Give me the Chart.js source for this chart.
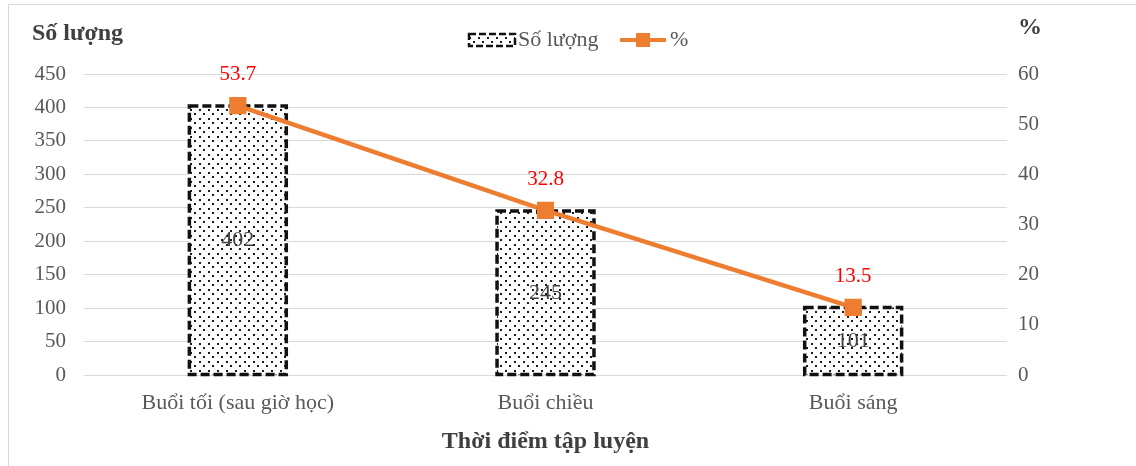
<!DOCTYPE html>
<html>
<head>
<meta charset="utf-8">
<script src="https://cdn.jsdelivr.net/npm/chart.js@4"></script>
<style>
  body { margin: 0; background: #fff; }
  #wrap { width: 1136px; height: 466px; }
</style>
</head>
<body>
<div id="wrap"><canvas id="chart" width="1136" height="466"></canvas></div>
<script>
const categories = ['Buổi tối (sau giờ học)', 'Buổi chiều', 'Buổi sáng'];
const counts = [402, 245, 101];
const percents = [53.7, 32.8, 13.5];
const leftTicks = { min: 0, max: 450, step: 50 };
const rightTicks = { min: 0, max: 60, step: 10 };

const serif = "'Liberation Serif', 'Times New Roman', serif";
const grey = '#595959';
const orange = '#ED7D31';

// dotted fill like the Excel pattern
function dotPattern() {
    const c = document.createElement('canvas');
    c.width = 9; c.height = 9;
    const g = c.getContext('2d');
    g.fillStyle = '#fff';
    g.fillRect(0, 0, 9, 9);
    g.fillStyle = '#1a1a1a';
    g.fillRect(1, 1, 2, 2);
    g.fillRect(5, 5, 2, 2);
    return document.getElementById('chart').getContext('2d').createPattern(c, 'repeat');
}
const pattern = dotPattern();

const extras = {
    id: 'extras',
    afterDatasetDraw(chart, args) {
        if (args.index !== 0) return;
        const ctx = chart.ctx;
        ctx.save();
        ctx.strokeStyle = '#111';
        ctx.lineWidth = 3.5;
        ctx.setLineDash([9, 4]);
        args.meta.data.forEach(bar => {
            const w = bar.width;
            ctx.strokeRect(bar.x - w / 2, bar.y, w, bar.base - bar.y);
        });
        ctx.restore();
    },
    afterDatasetsDraw(chart) {
        const ctx = chart.ctx;
        ctx.save();
        ctx.textAlign = 'center';
        ctx.textBaseline = 'middle';
        ctx.font = '22px ' + serif;
        ctx.fillStyle = '#404040';
        chart.getDatasetMeta(0).data.forEach((bar, i) => {
            ctx.fillText(String(counts[i]), bar.x, (bar.y + bar.base) / 2);
        });
        ctx.font = '21px ' + serif;
        ctx.fillStyle = '#FF0000';
        chart.getDatasetMeta(1).data.forEach((pt, i) => {
            ctx.fillText(percents[i].toFixed(1), pt.x, pt.y - 31);
        });
        ctx.restore();
    },
    afterDraw(chart) {
        const ctx = chart.ctx;
        ctx.save();
        // outer frame
        ctx.strokeStyle = '#d9d9d9';
        ctx.lineWidth = 1;
        ctx.beginPath();
        ctx.moveTo(8.5, 466);
        ctx.lineTo(8.5, 4.5);
        ctx.lineTo(1136, 4.5);
        ctx.stroke();

        // axis titles
        ctx.fillStyle = '#404040';
        ctx.font = 'bold 24px ' + serif;
        ctx.textBaseline = 'middle';
        ctx.textAlign = 'left';
        ctx.fillText('Số lượng', 32, 34);
        ctx.fillText('%', 1018, 28);

        // legend
        ctx.fillStyle = pattern;
        ctx.fillRect(469, 34, 46, 12);
        ctx.strokeStyle = '#111';
        ctx.lineWidth = 2.5;
        ctx.setLineDash([7, 3]);
        ctx.strokeRect(469, 34, 46, 12);
        ctx.setLineDash([]);
        ctx.fillStyle = grey;
        ctx.font = '22px ' + serif;
        ctx.fillText('Số lượng', 518, 40);
        ctx.strokeStyle = orange;
        ctx.lineWidth = 4;
        ctx.beginPath();
        ctx.moveTo(620, 40);
        ctx.lineTo(666, 40);
        ctx.stroke();
        ctx.fillStyle = orange;
        ctx.fillRect(636, 33, 14, 14);
        ctx.fillStyle = grey;
        ctx.fillText('%', 670, 40);
        ctx.restore();
    }
};

new Chart(document.getElementById('chart'), {
    data: {
        labels: categories,
        datasets: [
            {
                type: 'bar',
                label: 'Số lượng',
                data: counts,
                backgroundColor: pattern,
                borderWidth: 0,
                categoryPercentage: 1,
                barPercentage: 0.315,
                yAxisID: 'y',
                order: 1
            },
            {
                type: 'line',
                label: '%',
                data: percents,
                borderColor: orange,
                borderWidth: 4.5,
                pointStyle: 'rect',
                pointRadius: 9,
                pointBackgroundColor: orange,
                pointBorderColor: orange,
                yAxisID: 'y1',
                order: 0
            }
        ]
    },
    options: {
        responsive: false,
        animation: false,
        layout: { padding: { top: 74, left: 0, right: 0, bottom: 0 } },
        plugins: {
            legend: { display: false },
            tooltip: { enabled: false }
        },
        scales: {
            x: {
                grid: { display: false, drawTicks: false },
                border: { display: false },
                ticks: { color: grey, font: { family: serif, size: 22 }, padding: 15 },
                title: {
                    display: true,
                    text: 'Thời điểm tập luyện',
                    color: '#404040',
                    font: { family: serif, size: 24, weight: 'bold' },
                    padding: { top: 0, bottom: 10 }
                },
                afterFit(s) { s.height = 91; }
            },
            y: {
                position: 'left',
                min: leftTicks.min,
                max: leftTicks.max,
                ticks: { stepSize: leftTicks.step, color: grey, font: { family: serif, size: 21 }, padding: 18 },
                grid: { color: '#d9d9d9', drawTicks: false },
                border: { display: false },
                afterFit(s) { s.width = 84; }
            },
            y1: {
                position: 'right',
                min: rightTicks.min,
                max: rightTicks.max,
                ticks: { stepSize: rightTicks.step, color: grey, font: { family: serif, size: 21 }, padding: 11 },
                grid: { drawOnChartArea: false, drawTicks: false },
                border: { display: false },
                afterFit(s) { s.width = 129; }
            }
        }
    },
    plugins: [extras]
});
</script>
</body>
</html>
